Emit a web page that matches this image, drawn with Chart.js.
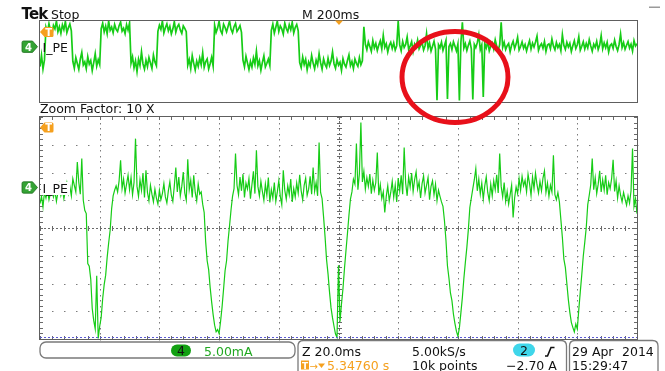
<!DOCTYPE html>
<html>
<head>
<meta charset="utf-8">
<script src="https://cdn.jsdelivr.net/npm/chart.js@4/dist/chart.umd.min.js"></script>
<style>
  html, body { margin: 0; padding: 0; background: #fff; }
  #scope { position: relative; width: 665px; height: 371px; overflow: hidden; background: #fff; }
  #scope canvas { position: absolute; left: 0; top: 0; }
  #overlay { position: absolute; left: 0; top: 0; pointer-events: none; }
</style>
</head>
<body>
<div id="scope">
  <canvas id="overview" width="665" height="371"></canvas>
  <canvas id="zoomed" width="665" height="371"></canvas>
  <svg id="overlay" width="665" height="371" font-family="DejaVu Sans, sans-serif" font-size="12.5">
    <!-- header -->
    <text x="21.5" y="19" font-weight="bold" font-size="15" letter-spacing="-0.8" fill="#111">Tek</text>
    <text x="51" y="18.5" fill="#111">Stop</text>
    <text x="302" y="18.5" fill="#111">M 200ms</text>
    <rect x="649" y="6.5" width="11" height="1.5" fill="#9a9a9a"/>
    <polygon points="335,20.5 343,20.5 339,25" fill="#f5a01e"/>

    <!-- overview markers -->
    <g>
      <path d="M40,32 L44.5,27 H52 Q53.5,27 53.5,28.5 V35.5 Q53.5,37 52,37 H44.5 Z" fill="#f5a01e"/>
      <text x="48.6" y="35.9" font-size="10" font-weight="bold" text-anchor="middle" fill="#fff">T</text>
    </g>
    <g>
      <path d="M22,42.5 Q22,41 23.5,41 H32.5 L37.5,46.7 L32.5,52.4 H23.5 Q22,52.4 22,50.9 Z" fill="#34a334" stroke="#1e6e1e" stroke-width="0.8"/>
      <text x="28.5" y="50.6" font-size="10" font-weight="bold" text-anchor="middle" fill="#fff">4</text>
    </g>
    <text x="42.5" y="52" fill="#111">I_PE</text>

    <text x="40" y="113" fill="#111">Zoom Factor: 10 X</text>

    <!-- zoom window markers -->
    <g transform="translate(0,95.5)">
      <path d="M40,32 L44.5,27 H52 Q53.5,27 53.5,28.5 V35.5 Q53.5,37 52,37 H44.5 Z" fill="#f5a01e"/>
      <text x="48.6" y="35.9" font-size="10" font-weight="bold" text-anchor="middle" fill="#fff">T</text>
    </g>
    <g transform="translate(0,140.8)">
      <path d="M22,42.5 Q22,41 23.5,41 H32.5 L37.5,46.7 L32.5,52.4 H23.5 Q22,52.4 22,50.9 Z" fill="#34a334" stroke="#1e6e1e" stroke-width="0.8"/>
      <text x="28.5" y="50.6" font-size="10" font-weight="bold" text-anchor="middle" fill="#fff">4</text>
    </g>
    <rect x="41" y="182" width="29" height="13" fill="#fff"/>
    <text x="42.5" y="192.5" fill="#111">I_PE</text>

    <!-- readout boxes -->
    <rect x="40" y="342" width="255" height="16" rx="6" fill="none" stroke="#7a7a7a" stroke-width="1.3"/>
    <path d="M298,375 V346 Q298,340.5 303.5,340.5 H561 Q566.5,340.5 566.5,346 V375" fill="none" stroke="#7a7a7a" stroke-width="1.3"/>
    <path d="M569.5,375 V346 Q569.5,340.5 575,340.5 H652.5 Q658,340.5 658,346 V375" fill="none" stroke="#7a7a7a" stroke-width="1.3"/>

    <rect x="171" y="344.5" width="20" height="12" rx="6" fill="#12a012"/>
    <text x="181" y="355" text-anchor="middle" fill="#111">4</text>
    <text x="204" y="355.5" fill="#22a822">5.00mA</text>

    <text x="302" y="355.5" fill="#111">Z 20.0ms</text>
    <text x="412" y="355.5" fill="#111">5.00kS/s</text>
    <rect x="513" y="343.5" width="22" height="13" rx="6.5" fill="#3fd6ea"/>
    <text x="524" y="355" text-anchor="middle" fill="#111">2</text>
    <path d="M545,356 H547.5 L551,347.5 H554.5" fill="none" stroke="#111" stroke-width="1.6"/>

    <rect x="301" y="360.5" width="8" height="9" fill="#f5a01e"/>
    <text x="305" y="368.6" font-size="9" font-weight="bold" text-anchor="middle" fill="#fff">T</text>
    <text x="309.5" y="369.5" font-size="10" fill="#f5a01e">→</text>
    <polygon points="318,363.5 325,363.5 321.5,368" fill="#f5a01e"/>
    <text x="327" y="370" fill="#f5a01e">5.34760 s</text>
    <text x="412" y="370" fill="#111">10k points</text>
    <text x="506" y="370" fill="#111">−2.70 A</text>

    <text x="572" y="355.5" fill="#111">29 Apr</text>
    <text x="622" y="355.5" fill="#111">2014</text>
    <text x="572" y="370" fill="#111">15:29:47</text>

    <!-- highlight ring round the burst of dips -->
    <ellipse cx="455" cy="77" rx="53" ry="45.5" fill="none" stroke="#e8101a" stroke-width="5"/>
  </svg>
</div>

<script>
// Channel 4 current probe, 5.00 mA/div; ground marker 1.46 div above screen centre.
const MA_PER_DIV = 5;
const GROUND_DIV = 1.46;
const H_DIVS = 10;
const V_DIVS = 8;

// Overview record: 200 ms/div, one sample every 5 ms (mA).
const OVERVIEW_SPAN_MS = 2000;
const OVERVIEW_STEP_MS = 5;
const overviewCurrent = [
  -9.8, -4.2, -11.0, -6.5,
  9.6, 7.1, 11.4, 8.0, 6.2, 10.5, 8.8, 12.7, 7.4, 9.9, 6.6, 10.8, 8.4, 12.5, 7.0, 9.3, 11.2, 7.8,
  -7.2, -10.6, -5.4, -8.3, -11.2, -6.1, -2.8, -9.0, -7.5, -10.9, -4.9, -8.6, -6.8, -11.8, -7.9, -3.5, -9.6, -6.4, -8.8,
  8.9, 11.6, 7.3, 10.2, 6.4, 12.7, 8.1, 9.7, 6.9, 11.0, 8.6, 7.5, 10.4, 12.2, 7.7, 9.1, 6.5, 10.9, 8.2, 11.8,
  -8.1, -5.0, -10.4, -7.0, -12.3, -6.2, -9.3, -2.5, -8.5, -11.1, -6.7, -9.8, -5.3, -8.0, -10.7, -4.1, -7.6, -9.4,
  7.6, 10.6, 8.5, 12.7, 6.8, 9.4, 11.3, 7.9, 10.1, 6.3, 8.7, 12.4, 7.2, 9.8, 11.0, 8.3, 6.6, 10.3, 9.0, 7.4,
  -9.1, -6.3, -10.8, -4.4, -8.2, -11.5, -7.1, -9.7, -5.6, -8.9, -3.0, -10.2, -7.4, -6.0, -11.0, -8.4, -5.2, -9.5,
  10.7, 7.0, 9.2, 12.6, 8.0, 6.4, 11.1, 9.5, 7.3, 10.0, 12.7, 8.6, 6.9, 9.9, 11.5, 7.6, 8.8, 10.4, 7.1,
  -6.6, -9.9, -4.7, -8.0, -11.3, -7.3, -10.1, -5.5, -8.7, -2.2, -9.4, -6.9, -11.6, -7.7, -4.5, -10.0, -8.2, -6.1, -9.3,
  8.1, 11.2, 6.7, 9.6, 12.7, 7.5, 10.3, 8.8, 6.2, 11.7, 9.0, 7.4, 10.9, 8.4, 12.1, 6.8, 9.5, 11.0, 7.9,
  -7.8, -10.3, -5.1, -8.8, -6.2, -11.4, -7.5, -9.6, -4.3, -8.1, -10.9, -6.6, -9.0, -3.4, -7.9, -11.1, -6.0, -8.7, -10.2, -5.7,
  -9.3, -7.1, -2.6, -8.4, -10.6, -6.4, -9.1, -7.6, -11.7, -5.9, -8.6, -10.0, -6.8, -4.0, -9.4, -7.3, -10.8, -6.1, -8.2, -9.7,
  -5.4, -8.9, -7.0,
  9.8, 1.2, -1.5, 2.4, 0.1, -2.3, 3.0, -0.6, 1.7, -1.9,
  0.8, 2.9, -1.1, 5.6, -0.3, 1.5, -2.6, 0.6, 2.2, -0.9,
  1.9, -1.7, 0.4, 12.7, 0.9, -2.0, 2.6, -0.4, 1.1, 4.8,
  -1.3, 0.3, 2.5, -2.4, 1.4, -0.2, 3.3, -1.0, 0.7, 2.0,
  -1.6, 0.5, 6.5, -0.8, 1.8, -2.2, 0.2, 2.7, -1.2, -26.4,
  1.0, -0.5, 2.3, -1.8, 0.6, 3.1, -25.8, 0.0, 1.6, -1.4,
  2.4, 0.3, -2.1, 1.3, -26.6, 2.1, 12.0, -0.7, 1.5, -1.9,
  0.7, 2.8, -1.0, -26.0, 1.2, -0.4, 2.0, 5.9, -1.5, 0.9,
  -24.8, 1.7, -0.6, 2.5, -2.0, 0.4, 1.9, -1.1, 3.4, 0.2,
  -1.7, 1.0, 12.0, -0.3, 2.2, -1.4, 0.5, 1.6, -2.5, 0.8,
  2.7, -0.9, 1.3, 4.6, -1.6, 0.1, 2.4, -0.7, 1.1, -2.1,
  0.6, 3.0, -1.2, 1.8, -0.2, 2.3, 5.2, -1.8, 0.4, 1.5,
  -0.8, 2.6, -2.3, 0.9, 1.4, -1.0, 3.8, 0.3, -1.5, 2.1,
  -0.4, 1.2, -2.0, 6.0, 0.7, -1.3, 2.2, -0.1, 1.7, -2.4,
  0.5, 2.9, -0.9, 1.0, 4.9, -1.7, 0.2, 2.4, -1.1, 1.6,
  -0.6, 3.5, 0.4, -2.2, 1.3, -0.3, 2.7, -1.4, 0.8, 5.5,
  -1.0, 1.9, -0.5, 2.2, -2.6, 0.6, 1.4, -0.8, 3.2, 0.1,
  -1.9, 1.1, 6.3, -0.4, 2.0, -1.3, 0.7, 2.5, -0.7, 1.2,
  -2.1, 3.0, 0.4, 1.5
];

// Zoomed window: 20 ms/div, one sample every 0.5 ms (mA).
const ZOOM_SPAN_MS = 200;
const ZOOM_STEP_MS = 0.5;
const zoomCurrent = [
  -2.9, -1.6, -3.5, -0.8, -1.9, -0.4, -2.2, -1.0, -0.2, -1.7,
  -0.6, -2.5, -0.9, 0.5, -1.4, -0.3, -2.0, -0.7, 0.8, -1.1,
  0.2, -1.5, 1.6, 0.4, -0.8, 4.6, 0.9, -1.2, 5.2, -2.3,
  -4.1, -4.7, -13.7, -14.2, -16.5, -21.8, -24.0, -25.5, -15.9, -27.2,
  -25.0, -23.4, -20.0, -17.5, -15.8, -12.6, -10.0, -7.7, -3.8, -1.5,
  -0.5, 0.3, -0.8, 1.2, 4.9, -0.2, 1.5, -1.0, 0.6, 2.2,
  -0.4, 1.8, -1.3, 0.9, 8.8, 0.2, -1.6, 1.4, -0.5, 2.6,
  -1.8, 3.1, -0.9, -2.4, 0.4, -1.2, -2.6, -0.3, -1.9, -3.0,
  -0.5, -2.2, -1.1, 0.7, -1.7, -2.8, -0.6, 1.0, -1.4, -2.5,
  0.3, 3.6, -0.8, 1.9, -1.5, 0.2, 2.8, -1.0, -2.3, 5.1,
  -0.4, 1.3, -1.8, 2.2, -0.9, -2.4, 0.6, -1.2, -0.8, -3.0,
  -4.5, -9.8, -13.2, -14.8, -18.0, -20.6, -22.9, -24.8, -26.0, -25.6,
  -26.3, -24.1, -21.5, -18.3, -15.0, -13.2, -9.6, -6.9, -4.0, -1.6,
  -0.2, 6.1, 0.4, -1.3, 1.9, -0.6, 2.4, -1.8, 0.8, -0.3,
  1.6, -2.0, 0.5, 2.9, -1.1, 6.7, 0.2, -1.5, 1.1, -0.7,
  -2.3, 0.6, -1.4, 1.8, -2.7, -0.4, -1.9, 0.9, -2.5, -0.8,
  1.2, -1.6, -3.1, 3.1, -0.5, -2.1, 0.3, -1.3, 1.5, -2.6,
  -0.2, -1.7, 0.8, -1.0, 2.3, -0.6, -2.2, 0.4, 1.7, -1.4,
  -0.3, 2.0, -1.2, 3.6, -0.7, 0.9, -1.5, 8.1, -0.9, -2.0,
  -5.3, -8.9, -13.0, -15.6, -18.9, -21.7, -23.5, -25.0, -26.4, -27.0,
  -14.0, -24.2, -21.0, -18.2, -14.6, -11.4, -8.3, -5.0, -2.1, -0.8,
  1.5, 0.6, 7.9, -0.4, 2.5, 11.7, 1.0, 2.9, -0.3, 1.8,
  0.2, 2.4, -1.1, 1.3, -0.5, 0.9, 6.3, -1.4, 0.5, -2.0,
  -0.8, -4.5, -1.6, 0.3, -2.4, -0.9, 1.1, -1.8, 0.4, -2.6,
  1.7, -0.6, 2.2, -1.2, 7.2, 0.8, -1.5, 1.9, 0.1, 2.6,
  -0.7, 1.4, 2.8, -0.3, 1.0, -1.9, 0.7, 2.1, -1.0, 0.4,
  1.8, -2.2, 0.2, 1.2, -1.3, 0.6, -2.4, -0.5, -1.6, -2.6,
  -3.4, -6.0, -9.5, -14.1, -16.3, -19.0, -20.4, -22.8, -24.5, -25.9,
  -26.8, -25.3, -22.6, -19.8, -16.4, -13.5, -10.8, -7.6, -3.6, -1.9,
  -0.2, 1.4, 3.4, -0.6, 1.5, -1.2, 0.8, -2.1, 0.3, 1.9,
  -0.9, -2.4, 0.6, -1.5, 1.2, -0.4, 2.3, -1.0, 6.1, 0.2,
  -1.7, 0.9, -2.5, -0.7, -3.0, -1.3, 0.4, -5.4, -1.9, 0.1,
  -1.1, 1.6, -0.5, 2.0, 0.3, 1.3, -0.8, 2.4, 0.7, -1.4,
  1.9, -0.2, 2.6, 0.5, -1.0, 1.1, -0.6, 1.7, 3.0, -0.9,
  0.8, -1.6, 0.4, -0.8, 5.8, -1.3, -2.2, -0.9, -2.6, -5.8,
  -9.0, -12.9, -14.4, -17.3, -20.2, -22.5, -24.3, -25.2, -26.0, -24.6,
  -25.5, -22.0, -18.8, -15.7, -12.4, -9.9, -7.2, -3.1, -1.4, 0.5,
  5.2, -0.4, 1.8, -1.1, 0.6, 3.0, -0.8, 1.4, -0.5, 2.2,
  -1.3, 0.9, -0.2, 1.6, 5.0, -0.7, 1.2, -1.9, 0.3, -1.4,
  -2.6, -0.9, -2.1, -3.2, -1.5, -2.8, -0.6, 7.0, -3.4, -2.0,
  -4.7
];

const Y_MIN = (-V_DIVS / 2 - GROUND_DIV) * MA_PER_DIV;
const Y_MAX = (V_DIVS / 2 - GROUND_DIV) * MA_PER_DIV;
const TRACE_COLOR = 'rgb(22,204,22)';
const FRAME_COLOR = '#5e5e5e';
const GRID_COLOR = '#7c7c7c';

// Graticule (dotted divisions, centre crosshair, edge ticks) and frame.
const graticule = {
  id: 'graticule',
  beforeDatasetsDraw(chart, _args, opts) {
    if (!opts.grid) return;
    const { ctx, chartArea: a, scales: { x, y } } = chart;
    const xs = [], ys = [];
    for (let k = 0; k <= H_DIVS; k++) xs.push(Math.round(x.getPixelForValue(x.min + k * (x.max - x.min) / H_DIVS)));
    for (let k = 0; k <= V_DIVS; k++) ys.push(Math.round(y.getPixelForValue(y.min + k * MA_PER_DIV)));
    const subX = (a.right - a.left) / (H_DIVS * 5);
    const subY = (a.bottom - a.top) / (V_DIVS * 5);
    ctx.save();
    ctx.fillStyle = GRID_COLOR;
    for (let k = 1; k < H_DIVS; k++) {
      if (k === H_DIVS / 2) continue;
      for (let m = 0; m <= V_DIVS * 5; m++) ctx.fillRect(xs[k], Math.round(a.top + m * subY), 1, 1.5);
    }
    for (let k = 1; k < V_DIVS; k++) {
      if (k === V_DIVS / 2) continue;
      for (let m = 0; m <= H_DIVS * 5; m++) ctx.fillRect(Math.round(a.left + m * subX), ys[k], 1.5, 1);
    }
    const cx = xs[H_DIVS / 2], cy = ys[V_DIVS / 2];
    ctx.fillStyle = '#6a6a6a';
    for (let py = a.top; py < a.bottom; py += 4) ctx.fillRect(cx, py, 1, 2);
    for (let px = a.left; px < a.right; px += 4) ctx.fillRect(px, cy, 2, 1);
    for (let m = 0; m <= V_DIVS * 5; m++) {
      const py = Math.round(a.top + m * subY);
      ctx.fillRect(cx - 2, py, 5, 1);
      ctx.fillRect(a.left, py, 3, 1);
      ctx.fillRect(a.right - 3, py, 3, 1);
    }
    for (let m = 0; m <= H_DIVS * 5; m++) {
      const px = Math.round(a.left + m * subX);
      ctx.fillRect(px, cy - 2, 1, 5);
      ctx.fillRect(px, a.top, 1, 3);
      ctx.fillRect(px, a.bottom - 3, 1, 3);
    }
    ctx.restore();
  },
  afterDatasetsDraw(chart, _args, opts) {
    const { ctx, chartArea: a } = chart;
    ctx.save();
    if (opts.grid) {
      ctx.strokeStyle = '#5a5ad2';
      ctx.lineWidth = 1;
      ctx.setLineDash([2, 2]);
      ctx.beginPath();
      ctx.moveTo(a.left, a.bottom - 1.5);
      ctx.lineTo(a.right, a.bottom - 1.5);
      ctx.stroke();
      ctx.setLineDash([]);
    }
    ctx.strokeStyle = FRAME_COLOR;
    ctx.lineWidth = 1;
    ctx.strokeRect(a.left - 0.5, a.top - 0.5, a.right - a.left + 1, a.bottom - a.top + 1);
    ctx.restore();
  }
};

function traceChart(canvasId, values, stepMs, spanMs, top, bottom, withGrid, lineWidth) {
  return new Chart(document.getElementById(canvasId), {
    type: 'line',
    data: {
      datasets: [{
        data: values.map((v, i) => ({ x: i * stepMs, y: v })),
        borderColor: TRACE_COLOR,
        borderWidth: lineWidth,
        pointRadius: 0,
        tension: 0,
        fill: false
      }]
    },
    options: {
      responsive: false,
      animation: false,
      events: [],
      devicePixelRatio: 1,
      layout: { padding: { left: 40, right: 28, top: top, bottom: 371 - bottom } },
      scales: {
        x: { type: 'linear', display: false, min: 0, max: spanMs },
        y: { type: 'linear', display: false, min: Y_MIN, max: Y_MAX }
      },
      plugins: {
        legend: { display: false },
        tooltip: { enabled: false },
        graticule: { grid: withGrid }
      }
    },
    plugins: [graticule]
  });
}

traceChart('overview', overviewCurrent, OVERVIEW_STEP_MS, OVERVIEW_SPAN_MS, 21, 102, false, 1.7);
traceChart('zoomed', zoomCurrent, ZOOM_STEP_MS, ZOOM_SPAN_MS, 117, 339, true, 1.2);
</script>
</body>
</html>
